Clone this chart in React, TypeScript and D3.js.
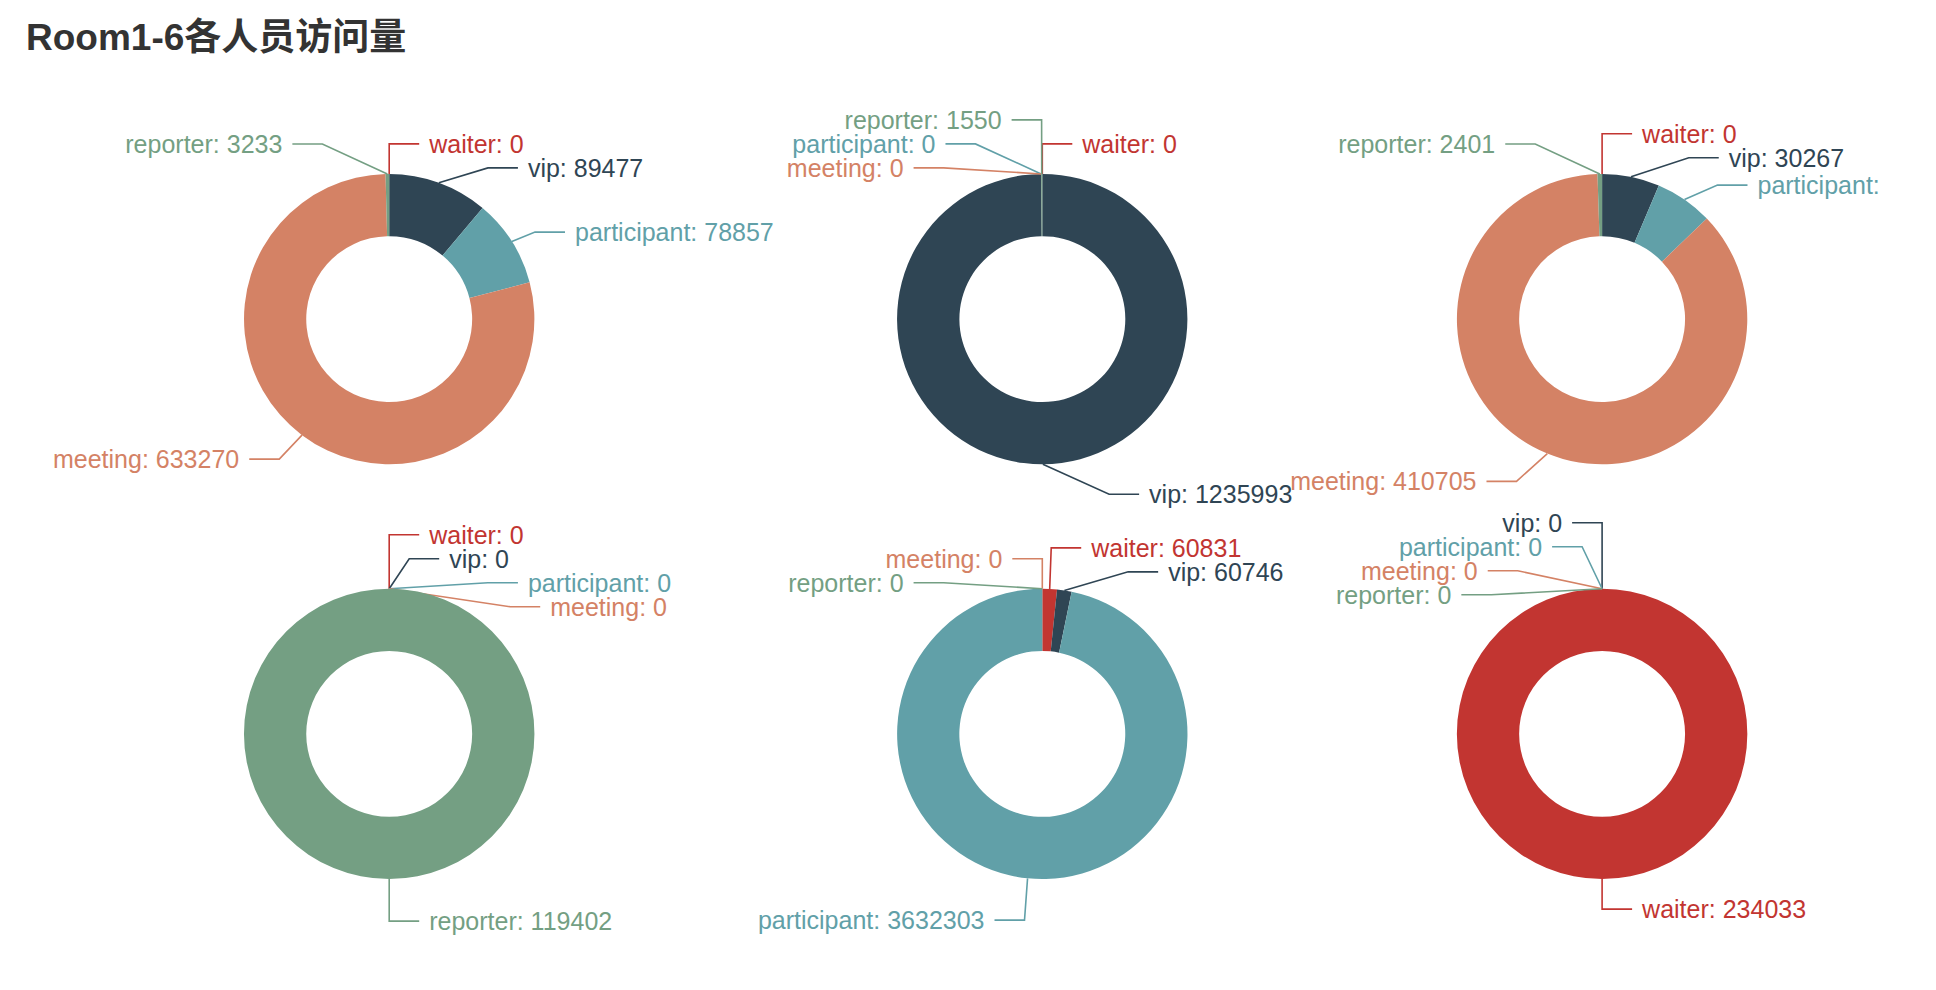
import React from 'react';
import * as d3 from 'd3';

// ---------------- data ----------------
const chartTitle = 'Room1-6各人员访问量';
const categories = ['waiter', 'vip', 'participant', 'meeting', 'reporter'];
const categoryColors = ['#c23531', '#2f4554', '#61a0a8', '#d48265', '#749f83'];
const rooms = ['Room1', 'Room2', 'Room3', 'Room4', 'Room5', 'Room6'];
const room1Values = [0, 89477, 78857, 633270, 3233];
const room2Values = [0, 1235993, 0, 0, 1550];
const room3Values = [0, 30267, 30500, 410705, 2401];
const room4Values = [0, 0, 0, 0, 119402];
const room5Values = [60831, 60746, 3632303, 0, 0];
const room6Values = [234033, 0, 0, 0, 0];
const roomValues = [room1Values, room2Values, room3Values, room4Values, room5Values, room6Values];
const centerXPct = [0.2, 0.55, 0.85, 0.2, 0.55, 0.85];
const centerYPct = [0.3, 0.3, 0.3, 0.7, 0.7, 0.7];
const radiusPct = [0.16, 0.28];

// ---------------- layout constants ----------------
const PAGE_W = 1936;
const PAGE_H = 990;
const BOX_LEFT = 16;
const BOX_TOP = 8;
const BOX_W = 1866;
const BOX_H = 1037;
const S = 2; // pixel ratio of the original rendering
const LEN = 15 * S;
const LEN2 = 15 * S;
const DIST = 5 * S;
const LINE_H = 12 * S;
const STEP = 10 * S;
const EPS = 1e-6;
const FONT = '"Liberation Sans", Arial, Helvetica, "Noto Sans CJK SC", sans-serif';

type Label = {
  i: number;
  x: number;
  y: number;
  height: number;
  len: number;
  len2: number;
  linePoints: number[][];
  textAlign: 'left' | 'right';
};

function adjustSingleSide(list: Label[], cx: number, cy: number, r: number, dir: number, viewHeight: number, viewTop: number) {
  list.sort((a, b) => a.y - b.y);
  function shiftUp(end: number, delta: number) {
    for (let j = end; j >= 0; j--) {
      if (list[j].y - delta < viewTop) break;
      list[j].y -= delta;
      if (j > 0 && list[j].y > list[j - 1].y + list[j - 1].height) break;
    }
  }
  function shiftDown(start: number, end: number, delta: number) {
    for (let j = start; j < end; j++) {
      if (list[j].y + delta > viewTop + viewHeight) break;
      list[j].y += delta;
      if (j > start && j + 1 < end && list[j + 1].y > list[j].y + list[j].height) {
        shiftUp(j, delta / 2);
        return;
      }
    }
    shiftUp(end - 1, delta / 2);
  }
  function changeX(sub: Label[], isDown: boolean) {
    let last = isDown ? Number.MAX_VALUE : 0;
    for (const it of sub) {
      const dy = Math.abs(it.y - cy);
      const R = r + it.len + it.len2;
      let dx = dy < r + it.len - EPS ? Math.sqrt(R * R - dy * dy) : Math.abs(it.x - cx);
      if (isDown && dx >= last) dx = last - STEP;
      if (!isDown && dx <= last) dx = last + STEP;
      it.x = cx + dx * dir;
      last = dx;
    }
  }
  let lastY = 0;
  const n = list.length;
  for (let i = 0; i < n; i++) {
    const delta = list[i].y - lastY;
    if (delta < 0) shiftDown(i, n, -delta);
    lastY = list[i].y + list[i].height;
  }
  if (viewHeight - lastY < 0) shiftUp(n - 1, lastY - viewHeight);
  const up: Label[] = [];
  const down: Label[] = [];
  for (const it of list) (it.y >= cy ? down : up).push(it);
  changeX(up, false);
  changeX(down, true);
}

function computePie(values: number[], cx: number, cy: number, r0: number, r: number) {
  const pieGen = d3.pie<number>().sort(null).value((d) => d);
  const arcs = pieGen(values);
  const labels: Label[] = arcs.map((a, i) => {
    const mid = (a.startAngle + a.endAngle) / 2 - Math.PI / 2;
    const nx = Math.cos(mid);
    const ny = Math.sin(mid);
    const x1 = cx + r * nx;
    const y1 = cy + r * ny;
    const x2 = x1 + nx * LEN;
    const y2 = y1 + ny * LEN;
    const x3 = x2 + (nx < 0 ? -1 : 1) * LEN2;
    const y3 = y2;
    return {
      i,
      x: x3 + (nx < 0 ? -DIST : DIST),
      y: y3,
      height: LINE_H,
      len: LEN,
      len2: LEN2,
      linePoints: [[x1, y1], [x2, y2], [x3, y3]],
      textAlign: nx > 0 ? 'left' : 'right',
    } as Label;
  });
  const left: Label[] = [];
  const right: Label[] = [];
  labels.forEach((l) => (l.x < cx ? left : right).push(l));
  adjustSingleSide(right, cx, cy, r, 1, BOX_H, 0);
  adjustSingleSide(left, cx, cy, r, -1, BOX_H, 0);
  labels.forEach((l) => {
    const lp = l.linePoints;
    const dist = lp[1][0] - lp[2][0];
    lp[2][0] = l.x < cx ? l.x + DIST : l.x - DIST;
    lp[1][0] = lp[2][0] + dist;
    lp[1][1] = lp[2][1] = l.y;
  });
  labels.sort((a, b) => a.i - b.i);
  return { arcs, labels };
}

export default function App() {
  const minSide = Math.min(BOX_W, BOX_H) / 2;
  const r0 = radiusPct[0] * minSide;
  const r = radiusPct[1] * minSide;
  const arcGen = d3.arc<d3.PieArcDatum<number>>().innerRadius(r0).outerRadius(r);

  const pies = rooms.map((room, k) => {
    const cx = centerXPct[k] * BOX_W;
    const cy = centerYPct[k] * BOX_H;
    return { room, cx, cy, ...computePie(roomValues[k], cx, cy, r0, r) };
  });

  return (
    <svg
      width={PAGE_W}
      height={PAGE_H}
      style={{ position: 'absolute', left: 0, top: 0, display: 'block', background: '#fff' }}
      fontFamily={FONT}
    >
      <defs>
        <clipPath id="chartBox">
          <rect x={0} y={0} width={BOX_W} height={BOX_H} />
        </clipPath>
      </defs>
      <g transform={`translate(${BOX_LEFT},${BOX_TOP})`} clipPath="url(#chartBox)">
        <text x={5 * S} y={42} fontSize={37} fontWeight="bold" fill="#333">
          {chartTitle}
        </text>
        {pies.map((p) => (
          <g key={p.room}>
            {p.arcs.map((a, i) => {
              const lbl = p.labels[i];
              const color = categoryColors[i];
              return (
                <g key={categories[i]}>
                  {a.endAngle - a.startAngle > 0 && (
                    <path d={arcGen(a) || ''} transform={`translate(${p.cx},${p.cy})`} fill={color} />
                  )}
                  <polyline
                    points={lbl.linePoints.map((pt) => pt.join(',')).join(' ')}
                    fill="none"
                    stroke={color}
                    strokeWidth={1.6}
                  />
                  <text
                    x={lbl.x}
                    y={lbl.y}
                    fontSize={25}
                    fill={color}
                    textAnchor={lbl.textAlign === 'left' ? 'start' : 'end'}
                    dominantBaseline="central"
                  >
                    {`${categories[i]}: ${a.data}`}
                  </text>
                </g>
              );
            })}
          </g>
        ))}
      </g>
    </svg>
  );
}
